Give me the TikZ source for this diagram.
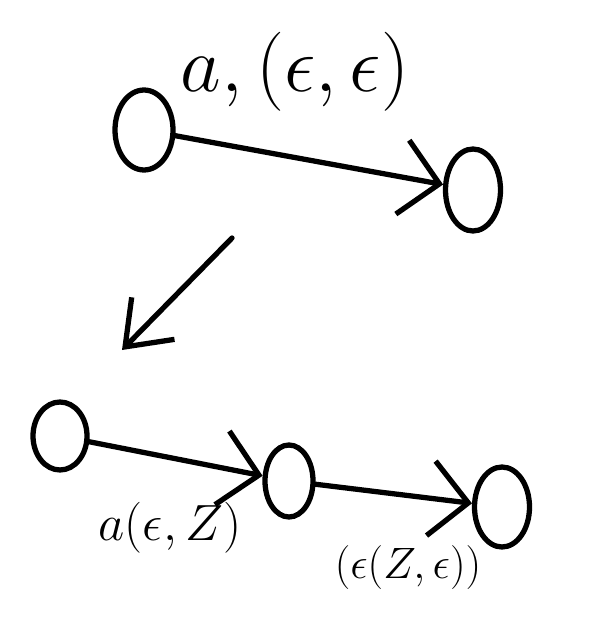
\RequirePackage{fix-cm}
\documentclass[tikz,border=0pt]{standalone}
\usepackage{amsmath, amssymb}
\usepackage{tikz}
\usetikzlibrary{shapes.geometric, arrows.meta}

\tikzset{
  stato/.style={draw, ellipse, line width=3pt, inner sep=0pt},
  freccia/.style={line width=3pt, line cap=round, -{Straight Barb[length=0.75cm, width=1.5cm, line width=3pt]}},
  scritta/.style={font=\fontsize{#1}{#1}\selectfont}
}

\begin{document}
\begin{tikzpicture}[x=0.02cm, y=-0.02cm]
  \useasboundingbox (0,0) rectangle (612,635);
  % automa di partenza
  \node[stato, minimum width=1.16cm, minimum height=1.6cm] (s0) at (144,130) {};
  \node[stato, minimum width=1.1cm, minimum height=1.64cm] (s1) at (473,190) {};
  \draw[freccia] (s0) -- (s1);
  \node[scritta=45] (l0) at (295,72) {$a,(\epsilon,\epsilon)$};
  % trasformazione
  \coordinate (c0) at (232,238);
  \coordinate (c1) at (122,350);
  \draw[line width=3pt, line cap=round, -{Straight Barb[length=0.8cm, width=1.2cm, line width=3pt]}] (c0) -- (c1);
  % automa risultante
  \node[stato, minimum width=1.08cm, minimum height=1.36cm] (r0) at (60,436) {};
  \node[stato, minimum width=0.96cm, minimum height=1.44cm] (r1) at (289,481) {};
  \node[stato, minimum width=1.1cm, minimum height=1.6cm] (r2) at (502,507) {};
  \draw[freccia] (r0) -- (r1);
  \draw[freccia] (r1) -- (r2);
  \node[scritta=29] (l1) at (170,528) {$a(\epsilon,Z)$};
  \node[scritta=25] (l2) at (408,568) {$(\epsilon(Z,\epsilon))$};
\end{tikzpicture}
\end{document}
